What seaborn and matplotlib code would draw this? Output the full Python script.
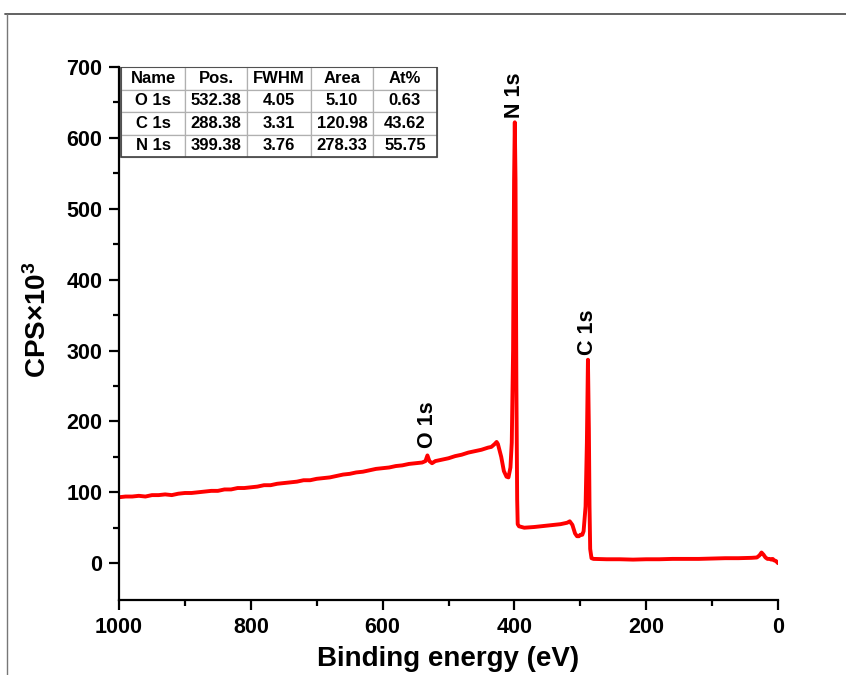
import matplotlib
matplotlib.use("Agg")
import matplotlib.pyplot as plt
from matplotlib.lines import Line2D
from matplotlib.ticker import MultipleLocator
import seaborn as sns
import pandas as pd

# XPS survey spectrum: binding energy (eV) and counts (CPS x 10^3)
energy = [1000, 990, 980, 970, 960, 950, 940, 930, 920, 910, 900, 890, 880, 870,
          860, 850, 840, 830, 820, 810, 800, 790, 780, 770, 760, 750, 740, 730,
          720, 710, 700, 690, 680, 670, 660, 650, 640, 630, 620, 610, 600, 590,
          580, 570, 560, 550, 540, 535, 532, 529, 525, 520, 510, 500, 490, 480,
          470, 460, 450, 440, 435, 430, 427, 425, 420, 416, 412, 409, 406, 404,
          402, 400.5, 399.4, 398.3, 397, 395.8, 395, 393, 385, 370, 360, 350,
          340, 330, 320, 316, 312, 308, 305, 302, 300, 297, 295, 292, 290,
          288.4, 287, 286, 285, 283, 280, 260, 240, 220, 200, 180, 160, 140,
          120, 100, 80, 60, 40, 32, 28, 25, 22, 19, 16, 13, 10, 8, 6, 3, 1, 0]
cps = [93, 94, 94, 95, 94, 96, 96, 97, 96, 98, 99, 99, 100, 101,
       102, 102, 104, 104, 106, 106, 107, 108, 110, 110, 112, 113, 114, 115,
       117, 117, 119, 120, 121, 123, 125, 126, 128, 129, 131, 133, 134, 135,
       137, 138, 140, 141, 142, 144, 152, 144, 141, 144, 146, 148, 151, 153,
       156, 158, 160, 163, 164, 168, 171, 168, 150, 130, 122, 121, 135, 170,
       300, 540, 622, 540, 250, 90, 55, 52, 50, 51, 52, 53,
       54, 55, 57, 59, 54, 42, 38, 38, 40, 40, 45, 80, 170,
       287, 190, 80, 20, 7, 6, 5.5, 5.5, 5, 5.5, 5.5, 6, 6,
       6, 6.5, 7, 7, 7.5, 8, 11, 15, 12, 8, 6, 6, 5, 6, 4, 3, 1, 0]

# Peak labels
peak_names = ["O 1s", "N 1s", "C 1s"]
peak_pos = [532, 399.4, 288.4]
peak_label_y = [162, 628, 293]

# Quantification table
table_header = ["Name", "Pos.", "FWHM", "Area", "At%"]
table_names = ["O 1s", "C 1s", "N 1s"]
table_pos = ["532.38", "288.38", "399.38"]
table_fwhm = ["4.05", "3.31", "3.76"]
table_area = ["5.10", "120.98", "278.33"]
table_at = ["0.63", "43.62", "55.75"]

sns.set_style("ticks")
plt.rcParams["font.family"] = ["Liberation Sans", "DejaVu Sans"]
plt.rcParams["font.weight"] = "bold"
plt.rcParams["text.color"] = "black"
plt.rcParams["axes.labelcolor"] = "black"
plt.rcParams["xtick.color"] = "black"
plt.rcParams["ytick.color"] = "black"
plt.rcParams["mathtext.fontset"] = "custom"
plt.rcParams["mathtext.rm"] = "Liberation Sans:bold"
plt.rcParams["mathtext.it"] = "Liberation Sans:bold"
plt.rcParams["mathtext.bf"] = "Liberation Sans:bold"

fig = plt.figure(figsize=(8.46, 6.75), dpi=100)
ax = fig.add_axes([0.1407, 0.1111, 0.7789, 0.7896])

df = pd.DataFrame({"energy": energy, "cps": cps})
sns.lineplot(data=df, x="energy", y="cps", sort=False, color="#ff0000",
             linewidth=2.8, ax=ax)

ax.set_xlim(1000, 0)
ax.set_ylim(-52, 700)
ax.xaxis.set_major_locator(MultipleLocator(200))
ax.xaxis.set_minor_locator(MultipleLocator(100))
ax.set_yticks([0, 100, 200, 300, 400, 500, 600, 700])
ax.set_yticks([50, 150, 250, 350, 450, 550, 650], minor=True)

for side in ["top", "right"]:
    ax.spines[side].set_visible(False)
for side in ["left", "bottom"]:
    ax.spines[side].set_linewidth(1.6)
    ax.spines[side].set_color("black")

ax.tick_params(axis="both", which="major", direction="out", length=7,
               width=1.6, labelsize=15.5, pad=5)
ax.tick_params(axis="both", which="minor", direction="out", length=4,
               width=1.6)
for lab in ax.get_xticklabels() + ax.get_yticklabels():
    lab.set_fontweight("bold")

ax.set_xlabel("Binding energy (eV)", fontsize=20, fontweight="bold", labelpad=6)
ax.set_ylabel(r"CPS$\times$10$^{3}$", fontsize=20, fontweight="bold")
ax.yaxis.set_label_coords(-0.102, 0.525)

for name, x, y in zip(peak_names, peak_pos, peak_label_y):
    ax.text(x, y, name, rotation=90, ha="center", va="bottom", fontsize=15.5,
            fontweight="bold")

cells = [[n, p, f, a, t] for n, p, f, a, t in
         zip(table_names, table_pos, table_fwhm, table_area, table_at)]
tbl_box = [0.003, 0.831, 0.4795, 0.169]
tbl = ax.table(cellText=cells, colLabels=table_header, cellLoc="center",
               bbox=tbl_box, colWidths=[64, 62, 64, 62, 64])
tbl.auto_set_font_size(False)
for (r, c), cell in tbl.get_celld().items():
    cell.set_edgecolor("#b0b0b0")
    cell.set_linewidth(0.9)
    cell.get_text().set_fontsize(12)
    cell.get_text().set_fontweight("bold")

# Outline of the table
ax.add_patch(plt.Rectangle(tbl_box[:2], tbl_box[2], tbl_box[3],
                           transform=ax.transAxes, fill=False,
                           edgecolor="#404040", linewidth=1.2, zorder=10))

# Page frame lines
fig.add_artist(Line2D([5 / 846, 1.0], [1 - 14 / 675, 1 - 14 / 675],
                      color="#555555", linewidth=1.3))
fig.add_artist(Line2D([7 / 846, 7 / 846], [0.0, 1 - 14 / 675],
                      color="#777777", linewidth=1.0))

fig.savefig("out.png", dpi=100)
